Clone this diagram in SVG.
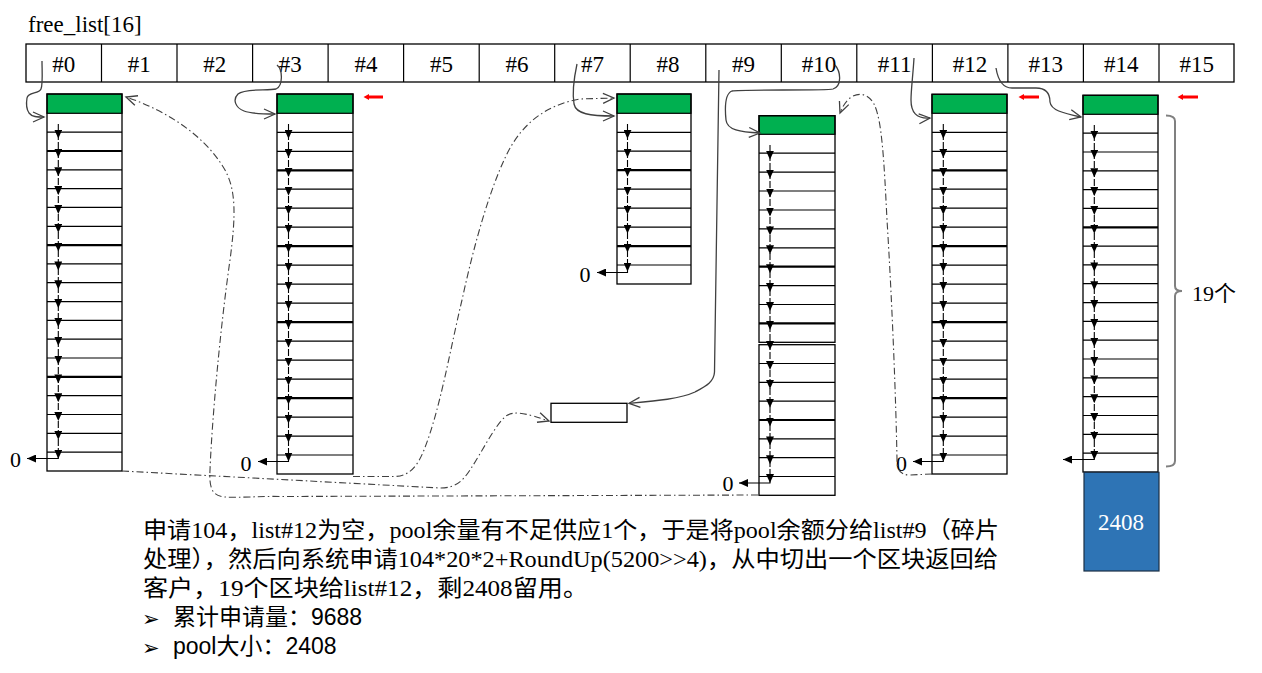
<svg xmlns="http://www.w3.org/2000/svg" width="1262" height="673" viewBox="0 0 1262 673">
<style>
.sf{font-family:"Liberation Serif","Noto Sans CJK SC",serif;fill:#000}
.hd{font-size:23px;text-anchor:middle}
.z{font-size:22px;text-anchor:middle}
.box{fill:none;stroke:#000;stroke-width:1.3}
.grn{fill:#00B050;stroke:#000;stroke-width:1.2}
.ln{fill:none;stroke:#000;stroke-width:1.2}
.tk{fill:none;stroke:#000;stroke-width:2.2}
.ch{fill:none;stroke:#000;stroke-width:1.1;stroke-dasharray:7,2;marker-mid:url(#fa);marker-end:url(#fa)}
.el{fill:none;stroke:#000;stroke-width:1.1;marker-end:url(#fe)}
.sc{fill:none;stroke:#404040;stroke-width:1.3;marker-end:url(#oa)}
.dd{fill:none;stroke:#404040;stroke-width:1.1;stroke-dasharray:7,3,1.5,3;marker-end:url(#oa)}
.red{stroke:#FF0000;stroke-width:3}
.sans{font-family:"Liberation Sans","Noto Sans CJK SC",sans-serif;font-size:23px;fill:#000}
.bul{font-family:"DejaVu Sans",sans-serif;font-size:21px;fill:#000}
</style>
<defs>
<marker id="fa" markerUnits="userSpaceOnUse" viewBox="0 0 9 8" refX="2.5" refY="4" markerWidth="9" markerHeight="8" orient="auto"><path d="M0,0 L9,4 L0,8 z" fill="#000"/></marker>
<marker id="fe" markerUnits="userSpaceOnUse" viewBox="0 0 9 8" refX="9" refY="4" markerWidth="9" markerHeight="8" orient="auto"><path d="M0,0 L9,4 L0,8 z" fill="#000"/></marker>
<marker id="oa" markerUnits="userSpaceOnUse" viewBox="0 0 14 12" refX="12" refY="6" markerWidth="14" markerHeight="12" orient="auto"><path d="M1,1 L12,6 L1,11" fill="none" stroke="#404040" stroke-width="1.3"/></marker>
</defs>

<text class="sf" x="28" y="32" font-size="23">free_list[16]</text>

<g id="free_list">
<rect x="26" y="44" width="1208" height="38" class="box"/>
<path class="ln" d="M101.5,44V82M177,44V82M252.6,44V82M328.1,44V82M403.6,44V82M479.2,44V82M554.7,44V82M630.2,44V82M705.8,44V82M781.3,44V82M856.8,44V82M932.4,44V82M1007.9,44V82M1083.4,44V82M1159,44V82"/>
<text class="sf hd" x="63.8" y="72">#0</text>
<text class="sf hd" x="139.3" y="72">#1</text>
<text class="sf hd" x="214.8" y="72">#2</text>
<text class="sf hd" x="290.3" y="72">#3</text>
<text class="sf hd" x="365.9" y="72">#4</text>
<text class="sf hd" x="441.4" y="72">#5</text>
<text class="sf hd" x="516.9" y="72">#6</text>
<text class="sf hd" x="592.5" y="72">#7</text>
<text class="sf hd" x="668" y="72">#8</text>
<text class="sf hd" x="743.5" y="72">#9</text>
<text class="sf hd" x="819.1" y="72">#10</text>
<text class="sf hd" x="894.6" y="72">#11</text>
<text class="sf hd" x="970.1" y="72">#12</text>
<text class="sf hd" x="1045.7" y="72">#13</text>
<text class="sf hd" x="1121.2" y="72">#14</text>
<text class="sf hd" x="1196.7" y="72">#15</text>
</g>

<g id="list0">
<rect x="47" y="94" width="75" height="19.3" class="grn"/>
<rect x="47" y="94" width="75" height="377" class="box"/>
<path class="ln" d="M47,132.1h75M47,169.8h75M47,188.6h75M47,207.4h75M47,226.3h75M47,263.9h75M47,282.7h75M47,301.6h75M47,320.4h75M47,339.2h75M47,358h75M47,395.7h75M47,414.5h75M47,433.3h75M47,452.2h75"/>
<path class="tk" d="M47,151h75M47,245.1h75M47,376.9h75"/>
<polyline class="ch" points="58.3,124 58.3,132.1 58.3,151 58.3,169.8 58.3,188.6 58.3,207.4 58.3,226.3 58.3,245.1 58.3,263.9 58.3,282.7 58.3,301.6 58.3,320.4 58.3,339.2 58.3,358 58.3,376.9 58.3,395.7 58.3,414.5 58.3,433.3 58.3,452.2"/>
<path class="el" d="M58.3,452.2V458.5H27"/>
<text class="sf z" x="15.5" y="466.5">0</text>
</g>

<g id="list3">
<rect x="277" y="94" width="76" height="19.3" class="grn"/>
<rect x="277" y="94" width="76" height="380" class="box"/>
<path class="ln" d="M277,132.3h76M277,151.3h76M277,189.2h76M277,208.2h76M277,227.2h76M277,265.2h76M277,284.2h76M277,303.2h76M277,341.1h76M277,360.1h76M277,379.1h76M277,417.1h76M277,436.1h76M277,455h76"/>
<path class="tk" d="M277,170.3h76M277,246.2h76M277,322.2h76M277,398.1h76"/>
<polyline class="ch" points="288.5,124 288.5,132.3 288.5,151.3 288.5,170.3 288.5,189.2 288.5,208.2 288.5,227.2 288.5,246.2 288.5,265.2 288.5,284.2 288.5,303.2 288.5,322.2 288.5,341.1 288.5,360.1 288.5,379.1 288.5,398.1 288.5,417.1 288.5,436.1 288.5,455"/>
<path class="el" d="M288.5,455V461.5H258"/>
<text class="sf z" x="246" y="470.5">0</text>
</g>

<g id="list7">
<rect x="617" y="94" width="74" height="19.3" class="grn"/>
<rect x="617" y="94" width="74" height="190" class="box"/>
<path class="ln" d="M617,132.3h74M617,151.2h74M617,189.2h74M617,208.1h74M617,227.1h74M617,265h74"/>
<path class="tk" d="M617,170.2h74M617,246.1h74"/>
<polyline class="ch" points="627.5,124 627.5,132.3 627.5,151.2 627.5,170.2 627.5,189.2 627.5,208.1 627.5,227.1 627.5,246.1 627.5,265"/>
<path class="el" d="M627.5,265V272.5H597"/>
<text class="sf z" x="585" y="282.3">0</text>
</g>

<g id="list10">
<rect x="759" y="115.7" width="76" height="18.6" class="grn"/>
<rect x="759" y="115.7" width="76" height="226.6" class="box"/>
<rect x="759" y="344.7" width="76" height="150.6" class="box"/>
<path class="ln" d="M759,153.2h76M759,172.1h76M759,191h76M759,210h76M759,228.9h76M759,247.8h76M759,285.6h76M759,304.5h76M759,363.5h76M759,382.4h76M759,401.2h76M759,438.9h76M759,457.7h76M759,476.5h76"/>
<path class="tk" d="M759,266.7h76M759,323.4h76M759,420h76"/>
<polyline class="ch" points="770,145 770,153.2 770,172.1 770,191 770,210 770,228.9 770,247.8 770,266.7 770,285.6 770,304.5 770,323.4 770,343.5 770,363.5 770,382.4 770,401.2 770,420 770,438.9 770,457.7 770,476.5"/>
<path class="el" d="M770,476.5V483H739"/>
<text class="sf z" x="728" y="490.7">0</text>
</g>

<g id="list12">
<rect x="932" y="94.3" width="75" height="19" class="grn"/>
<rect x="932" y="94.3" width="75" height="379.7" class="box"/>
<path class="ln" d="M932,132.3h75M932,151.3h75M932,189.2h75M932,208.2h75M932,227.2h75M932,265.2h75M932,284.2h75M932,303.2h75M932,341.1h75M932,360.1h75M932,379.1h75M932,417.1h75M932,436.1h75M932,455h75"/>
<path class="tk" d="M932,170.3h75M932,246.2h75M932,322.2h75M932,398.1h75"/>
<polyline class="ch" points="943.3,124 943.3,132.3 943.3,151.3 943.3,170.3 943.3,189.2 943.3,208.2 943.3,227.2 943.3,246.2 943.3,265.2 943.3,284.2 943.3,303.2 943.3,322.2 943.3,341.1 943.3,360.1 943.3,379.1 943.3,398.1 943.3,417.1 943.3,436.1 943.3,455"/>
<path class="el" d="M943.3,455V461.5H913"/>
<text class="sf z" x="901.5" y="470.5">0</text>
</g>

<g id="list14">
<rect x="1083" y="95.3" width="75" height="19" class="grn"/>
<rect x="1083" y="95.3" width="75" height="376.7" class="box"/>
<path class="ln" d="M1083,133.1h75M1083,152h75M1083,170.8h75M1083,189.6h75M1083,208.4h75M1083,246.1h75M1083,264.9h75M1083,283.7h75M1083,302.6h75M1083,321.4h75M1083,340.2h75M1083,359h75M1083,377.9h75M1083,396.7h75M1083,415.5h75M1083,434.3h75M1083,453.2h75"/>
<path class="tk" d="M1083,227.3h75"/>
<polyline class="ch" points="1094.3,125 1094.3,133.1 1094.3,152 1094.3,170.8 1094.3,189.6 1094.3,208.4 1094.3,227.3 1094.3,246.1 1094.3,264.9 1094.3,283.7 1094.3,302.6 1094.3,321.4 1094.3,340.2 1094.3,359 1094.3,377.9 1094.3,396.7 1094.3,415.5 1094.3,434.3 1094.3,453.2"/>
<path class="el" d="M1094.3,453.2V459.5H1063"/>
</g>

<g id="pool">
<rect x="1084" y="472.3" width="75" height="98.7" fill="#2E74B5" stroke="#1b2f45" stroke-width="1.2"/>
<text x="1121" y="529.5" font-size="23" text-anchor="middle" style="font-family:'Liberation Serif',serif;fill:#fff">2408</text>
</g>

<g id="fragment">
<rect x="551" y="403.3" width="76" height="19" class="box"/>
</g>

<g id="brace">
<path d="M1166,115.5 Q1175,115.5 1175,121 L1175,286 Q1175,291 1182,291 Q1175,291 1175,296 L1175,461 Q1175,466.5 1166,466.5" fill="none" stroke="#808080" stroke-width="2"/>
<text class="sf" x="1192" y="301" font-size="22">19个</text>
</g>

<g id="red-marks">
<path class="red" d="M368,97H383M1023,97H1039M1182,97H1198"/>
<path fill="#FF0000" d="M363.5,97L369,94L369,100zM1018.5,97L1024,94L1024,100zM1177.5,97L1183,94L1183,100z"/>
</g>

<g id="connectors">
<path class="sc" d="M42,61 C42,70 43,84 41,89 C39,94 28,92 27,98 C26,104 27,110 29,113 C32,117 37,117 44,117"/>
<path class="sc" d="M277,65 C283,70 283,86 276,89 C268,91 245,88 238,94 C232,100 236,108 244,111 C252,114 265,114 275,114"/>
<path class="sc" d="M577,64 C574,78 572,92 574,104 C576,114 590,116 614,116"/>
<path class="sc" d="M719,70 L714.5,372 C714,382 706,386 695,392 C680,399 655,401 629,403.3"/>
<path class="sc" d="M835,65 C841,72 842,86 833,89 C826,91 740,89 732,91 C724,94 725,110 726,120 C727,130 740,132 760,133"/>
<path class="sc" d="M914,58 C913,75 911,90 911,100 C911,112 916,119 930,118"/>
<path class="sc" d="M996,68 C998,80 1002,88 1012,88 L1036,88 C1046,88 1050,94 1050,102 C1051,110 1062,113 1081,117"/>
<path class="dd" d="M122,471 L440,488 C455,488 462,482 470,470 C482,452 495,425 506,416 C515,410 528,414 549,421"/>
<path class="dd" d="M353,476.5 L395,476.5 C410,476 418,465 424,450 C440,410 450,350 462,300 C475,240 490,190 505,158 C520,125 545,105 580,99 L614,98"/>
<path class="dd" d="M758,495 L280,496.5 C260,496 240,498 225,497 C212,496 209,488 210,470 C212,420 220,330 230,260 C236,215 236,190 225,170 C205,135 165,110 126,97"/>
<path class="dd" d="M932,474 L910,475 C900,475 897,470 897,460 C896,400 892,300 887,220 C884,160 882,120 874,104 C868,93 858,92 850,98 C845,102 842,108 840,113"/>
</g>

<g id="notes">
<text class="sf" x="143" y="538" font-size="23" textLength="856" lengthAdjust="spacingAndGlyphs">申请104，list#12为空，pool余量有不足供应1个，于是将pool余额分给list#9（碎片</text>
<text class="sf" x="143" y="567" font-size="23" textLength="855" lengthAdjust="spacingAndGlyphs">处理），然后向系统申请104*20*2+RoundUp(5200&gt;&gt;4)，从中切出一个区块返回给</text>
<text class="sf" x="143" y="596" font-size="23" textLength="445" lengthAdjust="spacingAndGlyphs">客户，19个区块给list#12，剩2408留用。</text>
<text class="bul" x="142" y="626">➢</text>
<text class="sans" x="173" y="625">累计申请量：9688</text>
<text class="bul" x="142" y="655">➢</text>
<text class="sans" x="173" y="654">pool大小：2408</text>
</g>
</svg>
